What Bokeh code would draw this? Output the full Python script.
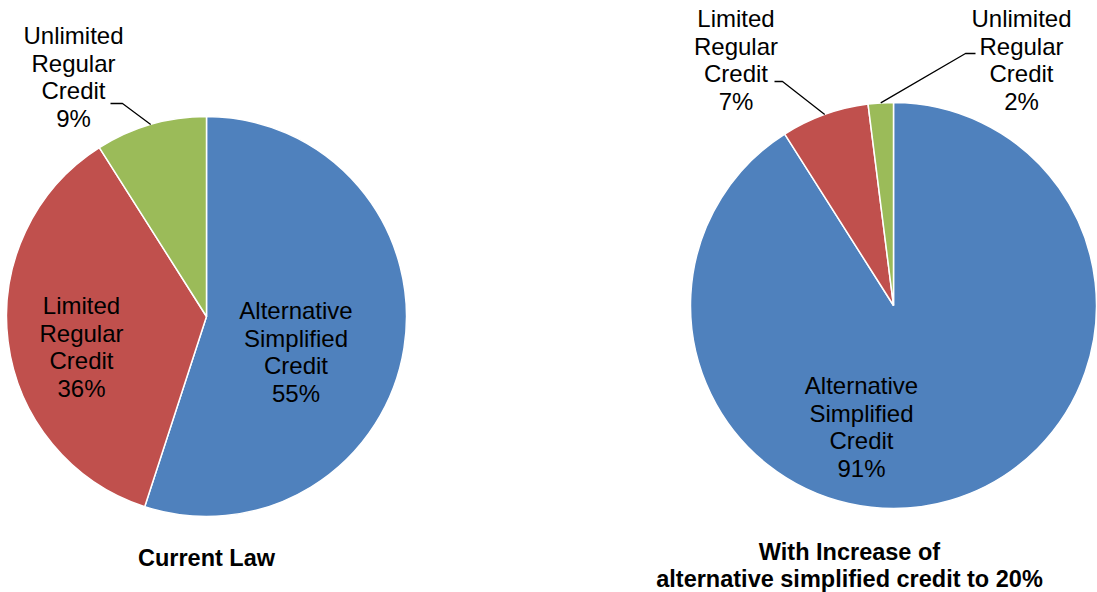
import math
from bokeh.plotting import figure
from bokeh.models import Range1d, ColumnDataSource
from bokeh.core.properties import value
from bokeh.embed import file_html
from bokeh.resources import INLINE

# ---- data ----
categories = ["Alternative Simplified Credit", "Limited Regular Credit", "Unlimited Regular Credit"]
colors = ["#4F81BD", "#C0504D", "#9BBB59"]
current_law = [55, 36, 9]
with_increase = [91, 7, 2]
titles_left = ["Current Law"]
titles_right = ["With Increase of", "alternative simplified credit to 20%"]

W, H = 1097, 592
FONT = "Liberation Sans"
DY = -8  # baseline correction


def Y(py):
    return H - py


p = figure(width=W, height=H, x_range=Range1d(0, W), y_range=Range1d(0, H),
           output_backend="svg", toolbar_location=None, min_border=0)
p.axis.visible = False
p.grid.visible = False
p.outline_line_color = None
p.background_fill_color = "white"
p.border_fill_color = "white"


def draw_pie(vals, cx, cy, r, label_pos, leaders):
    total = float(sum(vals))
    starts, ends, mids = [], [], []
    cum = 0.0
    for v in vals:
        a0 = math.pi / 2 - 2 * math.pi * cum / total
        cum += v
        a1 = math.pi / 2 - 2 * math.pi * cum / total
        starts.append(a0)
        ends.append(a1)
        mids.append((a0 + a1) / 2)
    src = ColumnDataSource(dict(x=[cx] * len(vals), y=[Y(cy)] * len(vals),
                                start=starts, end=ends, color=colors[:len(vals)]))
    p.wedge(x="x", y="y", radius=r, start_angle="start", end_angle="end",
            direction="clock", fill_color="color", line_color="white",
            line_width=1.5, source=src)
    # labels
    for i, v in enumerate(vals):
        lx, ly = label_pos[i]
        lines = categories[i].split() + ["%d%%" % v]
        xs = [lx] * len(lines)
        ys = [Y(ly + DY + k * 27.6) for k in range(len(lines))]
        p.text(x=xs, y=ys, text=lines, text_font=value(FONT),
               text_font_size=value("24px"), text_align="center",
               text_baseline="alphabetic", text_color="black")
    # leader lines
    for i, (sx, sy, kx) in leaders.items():
        ex = cx + r * math.cos(mids[i])
        ey = Y(cy) + r * math.sin(mids[i])
        p.line(x=[sx, kx, ex], y=[Y(sy), Y(sy), ey], line_color="black", line_width=1.3)


draw_pie(current_law, 206, 316, 200,
         [(295.5, 318), (81, 313), (73, 43)],
         {2: (110, 103, 122)})
draw_pie(with_increase, 893, 305, 203,
         [(861, 393), (735.5, 26), (1021, 26)],
         {1: (774, 81, 782), 2: (975, 53, 965)})

p.text(x=[206] * len(titles_left), y=[Y(565 + DY)], text=titles_left,
       text_font=value(FONT), text_font_size=value("23.5px"), text_font_style="bold",
       text_align="center", text_baseline="alphabetic", text_color="black")
p.text(x=[849] * len(titles_right), y=[Y(559 + DY + k * 27) for k in range(len(titles_right))],
       text=titles_right, text_font=value(FONT), text_font_size=value("23.5px"),
       text_font_style="bold", text_align="center", text_baseline="alphabetic",
       text_color="black")

open("out.html", "w").write(file_html(p, INLINE))
